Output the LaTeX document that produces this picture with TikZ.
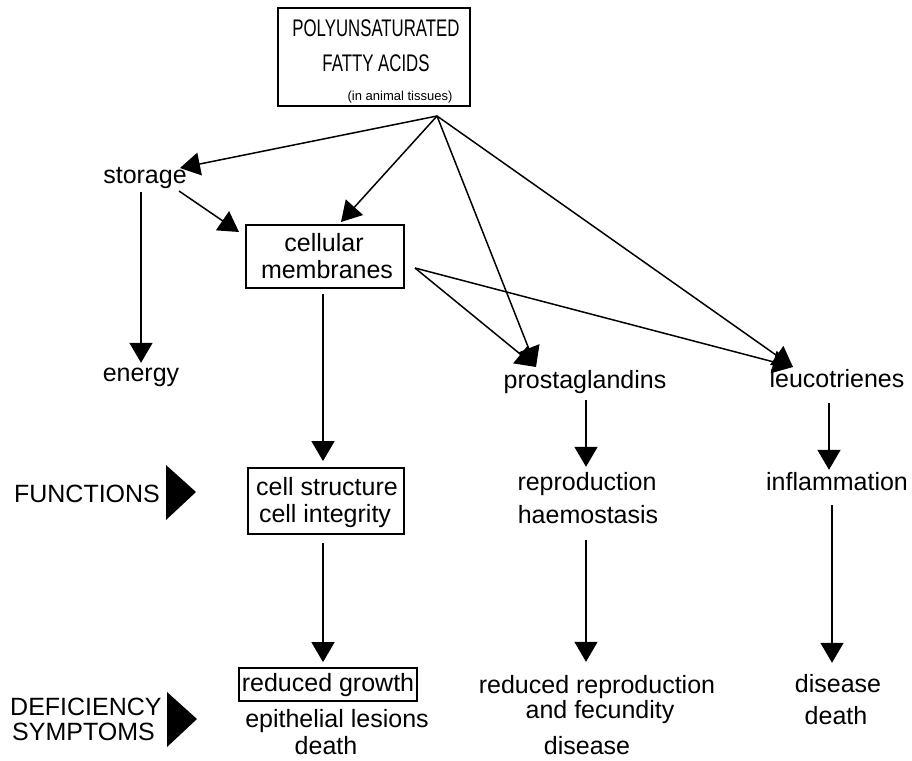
\documentclass[tikz,border=0pt]{standalone}
\usepackage{fontspec}
\setmainfont{Liberation Sans}
\usepackage{graphicx}
\usetikzlibrary{arrows.meta}
\begin{document}
\begin{tikzpicture}[x=1pt,y=-1pt,
  txt/.style={font=\fontsize{25}{28}\selectfont, inner sep=0pt, text height=18pt, text depth=5pt, anchor=base},
  ttl/.style={font=\fontsize{24}{27}\selectfont, inner sep=0pt, anchor=base},
  small/.style={font=\fontsize{13}{15}\selectfont, inner sep=0pt, anchor=base},
  box/.style={draw, line width=1.8pt, inner sep=0pt},
  arr/.style={line width=1.5pt, -{Triangle[length=20pt,width=23pt]}},
  marker/.style={fill=black}]
\fill[white] (0,0) rectangle (912,760);
\useasboundingbox (0,0) rectangle (912,760);

% title
\node[box, line width=2.5pt, minimum width=192pt, minimum height=98pt] (title) at (374,57) {};
\node[ttl] (t1) at (376,37) {\scalebox{0.7}[1]{POLYUNSATURATED}};
\node[ttl] (t2) at (376,71) {\scalebox{0.7}[1]{FATTY ACIDS}};
\node[small] (t3) at (400,100) {(in animal tissues)};
\coordinate (hub) at (437,116);

% left column
\node[txt] (storage) at (145,183) {storage};
\node[txt] (energy) at (141,381) {energy};

% membranes column
\node[box, minimum width=158pt, minimum height=63pt] (cm) at (325,256.5) {};
\node[txt] (cm1) at (324,251) {cellular};
\node[txt] (cm2) at (327,278) {membranes};
\node[box, minimum width=156pt, minimum height=66pt] (cs) at (326,501) {};
\node[txt] (cs1) at (327,495) {cell structure};
\node[txt] (cs2) at (325,522) {cell integrity};
\node[box, text height=18pt, text depth=5pt, font=\fontsize{25}{28}\selectfont, minimum width=178pt, minimum height=33pt] (rg) at (328,684.5) {reduced growth};
\node[txt] (epi) at (337,727) {epithelial lesions};
\node[txt] (death1) at (326,754) {death};

% prostaglandins column
\node[txt] (prost) at (585,388) {prostaglandins};
\node[txt] (repro) at (587,490) {reproduction};
\node[txt] (haemo) at (588,523) {haemostasis};
\node[txt] (rr1) at (597,693) {reduced reproduction};
\node[txt] (rr2) at (600,718) {and fecundity};
\node[txt] (dis1) at (587,754) {disease};

% leucotrienes column
\node[txt] (leuco) at (837,387) {leucotrienes};
\node[txt] (infl) at (837,490) {inflammation};
\node[txt] (dis2) at (838,692) {disease};
\node[txt] (death2) at (836,724) {death};

% row labels
\node[txt] (func) at (87,502) {FUNCTIONS};
\node[txt, anchor=base west] (def1) at (10,715) {DEFICIENCY};
\node[txt, anchor=base west] (def2) at (12,740) {SYMPTOMS};
\fill[marker] (166,465) -- (166,520) -- (196,492) -- cycle;
\fill[marker] (167,692) -- (167,747) -- (197,719) -- cycle;

% slanted connectors
\coordinate (tStor) at (180,168);
\coordinate (tCm) at (341,222);
\coordinate (sStor) at (179,191);
\coordinate (tCmL) at (239,232);
\coordinate (cmR) at (415,268);
\coordinate (tPro) at (536,367);
\coordinate (tLeu) at (793,367);
\draw[arr] (hub) -- (tStor);
\draw[arr] (hub) -- (tCm);
\draw[arr] (sStor) -- (tCmL);
\draw[arr] (hub) -- (tPro);
\draw[arr] (hub) -- (tLeu);
\draw[arr] (cmR) -- (tPro);
\draw[arr] (cmR) -- (tLeu);

% vertical connectors
\draw[arr, shorten <=4pt] (storage.south -| energy.north) -- (energy.north);
\draw[arr, shorten <=5pt, shorten >=6pt] ([xshift=-2pt]cm.south) -- ([xshift=-2pt]cm.south |- cs.north);
\draw[arr, shorten <=8pt, shorten >=5pt] ([xshift=-3pt]cs.south) -- ([xshift=-3pt]cs.south |- rg.north);
\draw[arr, shorten <=7pt, shorten >=5pt] ([xshift=1pt]prost.south) -- ([xshift=1pt]prost.south |- repro.north);
\draw[arr, shorten <=12pt, shorten >=13pt] ([xshift=1pt]haemo.south -| prost.south) -- ([xshift=1pt]prost.south |- rr1.north);
\draw[arr, shorten <=11pt, shorten >=2pt] ([xshift=-8pt]leuco.south) -- ([xshift=-8pt]leuco.south |- infl.north);
\draw[arr, shorten <=10pt, shorten >=11pt] ([xshift=-5pt]infl.south) -- ([xshift=-5pt]infl.south |- dis2.north);
\end{tikzpicture}
\end{document}
